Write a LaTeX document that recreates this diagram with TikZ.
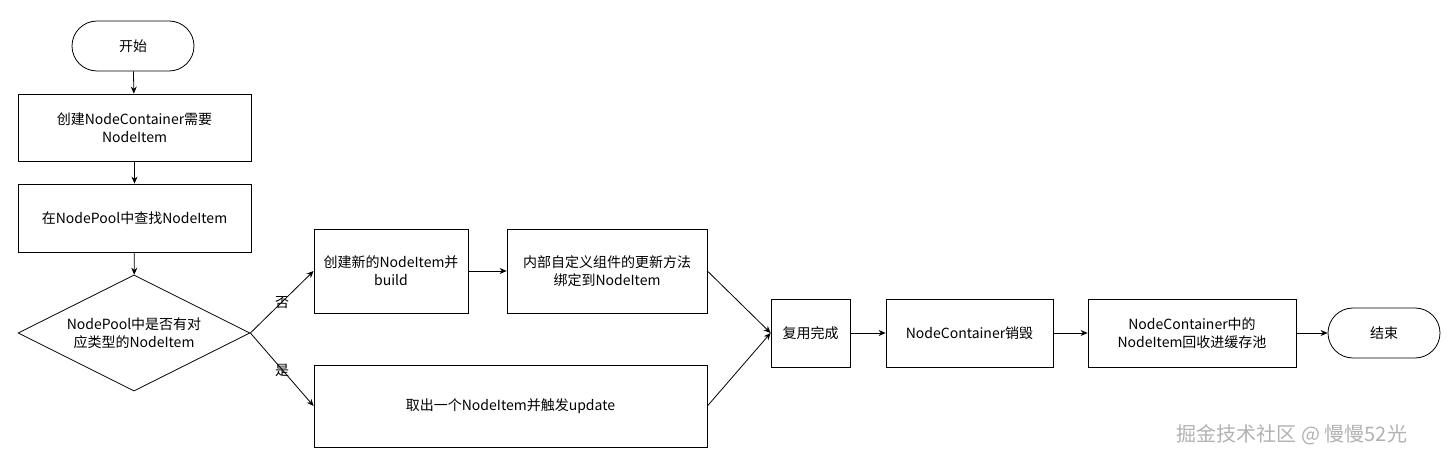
\documentclass[tikz,border=0pt]{standalone}
\usepackage{fontspec}
\setmainfont{Noto Sans CJK SC}
\usetikzlibrary{shapes.geometric,arrows.meta}
\begin{document}
\begin{tikzpicture}[x=1pt,y=-1pt,
  every node/.style={font=\fontsize{14}{18}\selectfont,align=center,draw=black,line width=0.8pt,inner sep=2pt},
  box/.style={rectangle},
  term/.style={rounded corners=25pt},
  arr/.style={-{Stealth[length=7pt,width=6pt]},line width=0.8pt},
  lbl/.style={draw=none}]
\fill[white] (0,0) rectangle (1452,462);
\useasboundingbox (0,0) rectangle (1452,462);
\node[term,minimum width=122pt,minimum height=50pt] (s) at (133,46) {开始};
\node[box,minimum width=233pt,minimum height=67pt] (b1) at (134.5,127.5) {创建NodeContainer需要\\NodeItem};
\node[box,minimum width=233pt,minimum height=68pt] (b2) at (134.5,218) {在NodePool中查找NodeItem};
\node[diamond,aspect=2,minimum width=232pt,minimum height=116pt,inner sep=0pt] (d) at (134,333) {NodePool中是否有对\\应类型的NodeItem};
\node[box,minimum width=154pt,minimum height=84pt] (b3) at (391,271) {创建新的NodeItem并\\build};
\node[box,minimum width=200pt,minimum height=84pt] (b4) at (607,271) {内部自定义组件的更新方法\\绑定到NodeItem};
\node[box,minimum width=393pt,minimum height=82pt] (b5) at (510.5,406) {取出一个NodeItem并触发update};
\node[box,minimum width=79pt,minimum height=68pt] (b6) at (810.5,333) {复用完成};
\node[box,minimum width=167pt,minimum height=68pt] (b7) at (969.5,333) {NodeContainer销毁};
\node[box,minimum width=208pt,minimum height=68pt] (b8) at (1192,333) {NodeContainer中的\\NodeItem回收进缓存池};
\node[term,minimum width=112pt,minimum height=50pt] (e) at (1384,333) {结束};
\draw[arr] (s) -- (b1);
\draw[arr] (b1) -- (b2);
\draw[arr] (b2) -- (d);
\draw[arr] (d.east) -- (b3.west);
\draw[arr] (d.east) -- (b5.west);
\node[lbl] at (282,303) {否};
\node[lbl] at (282,370) {是};
\draw[arr] (b3) -- (b4);
\draw[arr] (b4.east) -- (b6.west);
\draw[arr] (b5.east) -- (b6.west);
\draw[arr] (b6) -- (b7);
\draw[arr] (b7) -- (b8);
\draw[arr] (b8) -- (e);
\node[lbl,text=gray!60,font=\fontsize{20}{24}\selectfont] at (1292,435) {掘金技术社区 @ 慢慢52光};
\end{tikzpicture}
\end{document}
